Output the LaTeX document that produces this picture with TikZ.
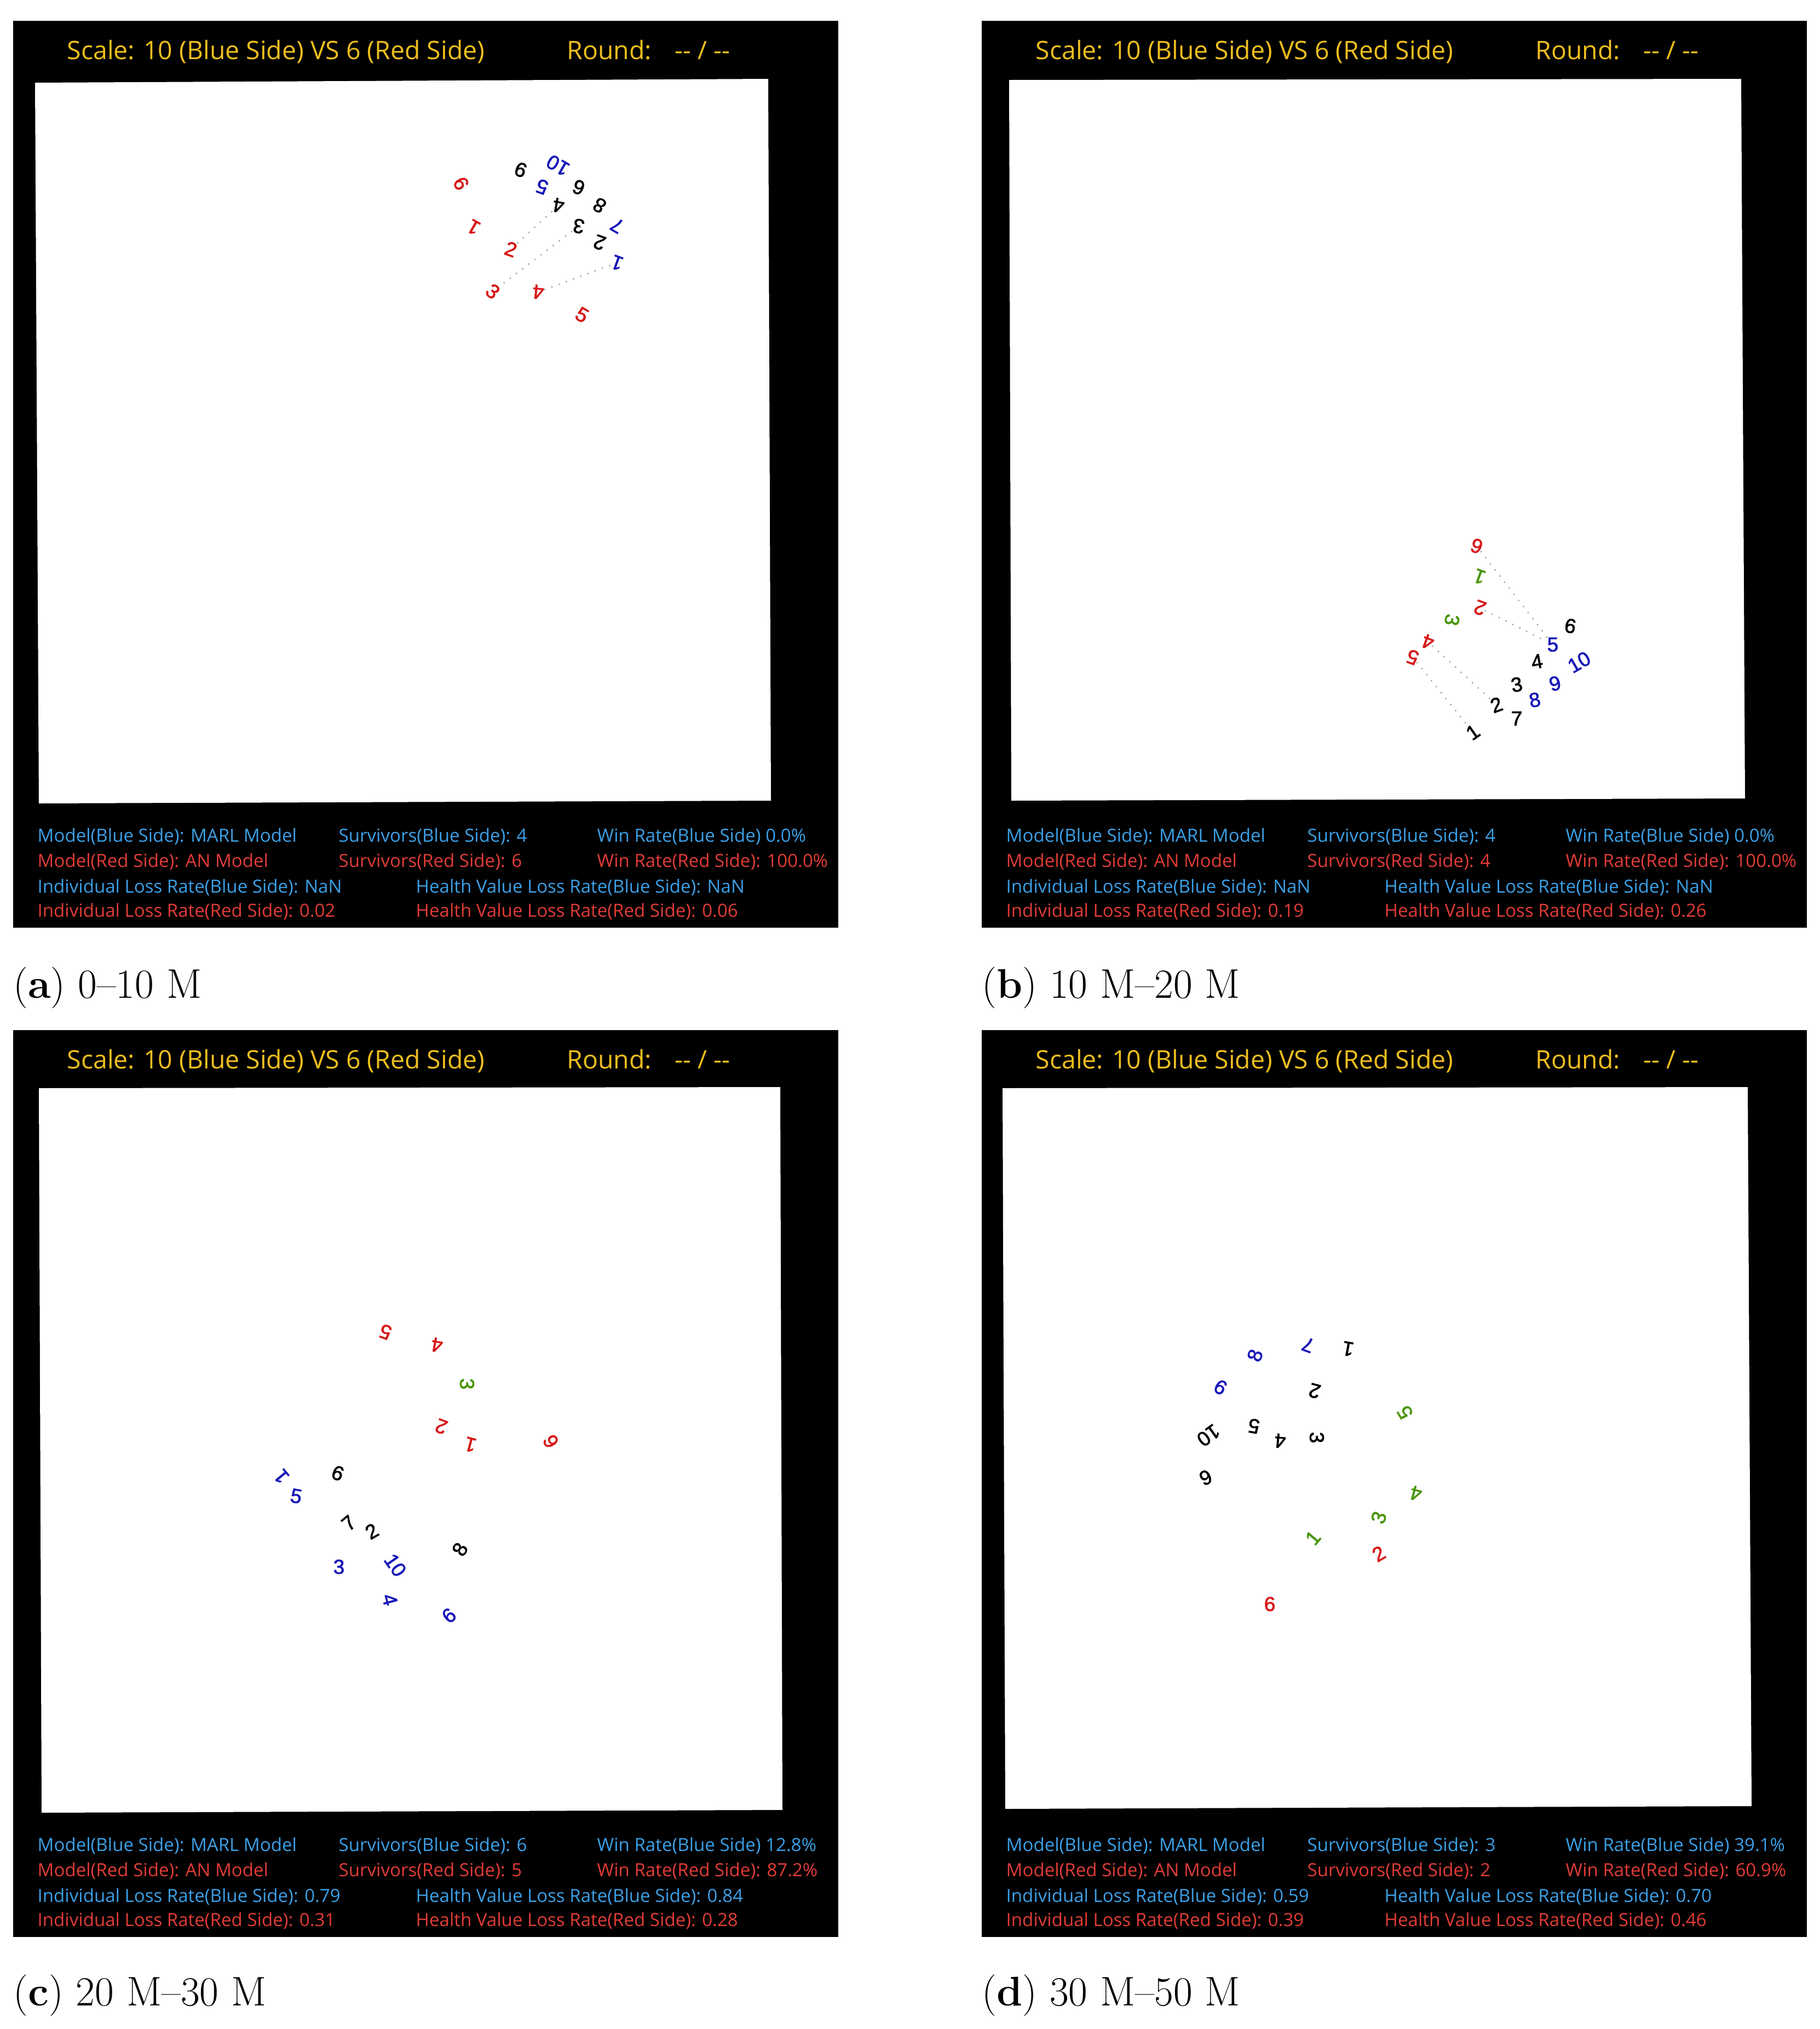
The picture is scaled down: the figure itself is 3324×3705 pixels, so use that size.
\documentclass[tikz,border=0pt]{standalone}
\usepackage{fontspec}
\newfontfamily\uifont{Open Sans}
\newfontfamily\numfont{Liberation Sans}[FakeBold=2]
\definecolor{ttl}{RGB}{238,190,30}
\definecolor{sblue}{RGB}{60,160,230}
\definecolor{sred}{RGB}{225,60,55}
\definecolor{nred}{RGB}{215,25,25}
\definecolor{nblue}{RGB}{25,25,185}
\definecolor{ngreen}{RGB}{75,150,15}
\tikzset{
 ttltext/.style={anchor=base west, inner sep=0pt, text=ttl, font=\uifont\fontsize{13.2}{15}\selectfont},
 sb/.style={anchor=west, inner sep=0pt, text=sblue, font=\uifont\fontsize{9.4}{11}\selectfont},
 sr/.style={sb, text=sred},
 captext/.style={anchor=base west, inner sep=0pt, font=\fontsize{21.5}{25}\selectfont},
 num/.style={inner sep=0pt, font=\numfont\fontsize{10.5}{12}\selectfont},
 rd/.style={num, text=nred}, bl/.style={num, text=nblue},
 bk/.style={num, text=black}, gn/.style={num, text=ngreen},
 dotl/.style={gray!80, line width=0.9pt, line cap=round, dash pattern=on 0pt off 4pt},
 panelbg/.style={fill=black},
 field/.style={fill=white},
}
\newcommand\panelstats[9]{%
 \node[ttltext] (#1t) at (98,70) {Scale: 10 (Blue Side) VS 6 (Red Side)};
 \node[ttltext] (#1r) at (1011,70) {Round:\kern 12pt-\kern0pt- / -\kern0pt-};
 \node[sb] (#1mb) at (44,1490) {Model(Blue Side): MARL Model};
 \node[sr] (#1mr) at (44,1536) {Model(Red Side): AN Model};
 \node[sb] (#1sb) at (594,1490) {Survivors(Blue Side): #2};
 \node[sr] (#1sr) at (594,1536) {Survivors(Red Side): #3};
 \node[sb] (#1wb) at (1066,1490) {Win Rate(Blue Side) #4};
 \node[sr] (#1wr) at (1066,1536) {Win Rate(Red Side): #5};
 \node[sb] (#1ib) at (44,1583) {Individual Loss Rate(Blue Side): #6};
 \node[sr] (#1ir) at (44,1627) {Individual Loss Rate(Red Side): #7};
 \node[sb] (#1hb) at (735,1583) {Health Value Loss Rate(Blue Side): #8};
 \node[sr] (#1hr) at (735,1627) {Health Value Loss Rate(Red Side): #9};
}
\begin{document}
\begin{tikzpicture}[x=0.01cm, y=-0.01cm]
\useasboundingbox (0,0) rectangle (3324,3705);
\fill[white] (0,0) rectangle (3324,3705);

% ---------- panel a ----------
\begin{scope}[shift={(24,38)}]
 \fill[panelbg] (0,0) rectangle (1507,1656);
 \fill[field] (40,113) -- (1379,106) -- (1384,1424) -- (47,1429) -- cycle;
 \panelstats{a}{4}{6}{0.0\%}{100.0\%}{NaN}{0.02}{NaN}{0.06}
\end{scope}
% ---------- panel b ----------
\begin{scope}[shift={(1793,38)}]
 \fill[panelbg] (0,0) rectangle (1507,1656);
 \fill[field] (50,108) -- (1387,106) -- (1394,1420) -- (54,1424) -- cycle;
 \panelstats{b}{4}{4}{0.0\%}{100.0\%}{NaN}{0.19}{NaN}{0.26}
\end{scope}
% ---------- panel c ----------
\begin{scope}[shift={(24,1881)}]
 \fill[panelbg] (0,0) rectangle (1507,1656);
 \fill[field] (47,106) -- (1401,104) -- (1405,1424) -- (52,1429) -- cycle;
 \panelstats{c}{6}{5}{12.8\%}{87.2\%}{0.79}{0.31}{0.84}{0.28}
\end{scope}
% ---------- panel d ----------
\begin{scope}[shift={(1793,1881)}]
 \fill[panelbg] (0,0) rectangle (1507,1656);
 \fill[field] (38,106) -- (1399,104) -- (1406,1417) -- (43,1422) -- cycle;
 \panelstats{d}{3}{2}{39.1\%}{60.9\%}{0.59}{0.39}{0.70}{0.46}
\end{scope}

% ---------- captions ----------
\node[captext] (capa) at (24,1822) {(\textbf{a}) 0–10 M};
\node[captext] (capb) at (1793,1822) {(\textbf{b}) 10 M–20 M};
\node[captext] (capc) at (24,3662) {(\textbf{c}) 20 M–30 M};
\node[captext] (capd) at (1793,3662) {(\textbf{d}) 30 M–50 M};

% ---------- panel a labels ----------
\node[rd, rotate=-60]  (a-r6) at (842,335) {6};
\node[rd, rotate=150]  (a-r1) at (865,415) {1};
\node[rd, rotate=-20]  (a-r2) at (933,455) {2};
\node[rd, rotate=-40]  (a-r3) at (900,532) {3};
\node[rd, rotate=175]  (a-r4) at (983,533) {4};
\node[rd, rotate=-30]  (a-r5) at (1063,575) {5};
\node[bk, rotate=160]  (a-k9) at (951,310) {9};
\node[bl, rotate=150]  (a-u10) at (1019,302) {10};
\node[bl, rotate=160]  (a-u5) at (990,341) {5};
\node[bk, rotate=160]  (a-k6) at (1057,342) {6};
\node[bk, rotate=170]  (a-k4) at (1020,375) {4};
\node[bk, rotate=150]  (a-k8) at (1095,375) {8};
\node[bk, rotate=170]  (a-k3) at (1057,413) {3};
\node[bl, rotate=150]  (a-u7) at (1127,412) {7};
\node[bk, rotate=160]  (a-k2) at (1095,443) {2};
\node[bl, rotate=160]  (a-u1) at (1127,480) {1};
\draw[dotl] (a-k4) -- (a-r2);
\draw[dotl] (a-k3) -- (a-r3);
\draw[dotl] (a-u1) -- (a-r4);

% ---------- panel b labels ----------
\node[rd, rotate=160]  (b-r6) at (2697,997) {6};
\node[gn, rotate=160]  (b-g1) at (2702,1053) {1};
\node[rd, rotate=160]  (b-r2) at (2703,1110) {2};
\node[gn, rotate=-100] (b-g3) at (2652,1132) {3};
\node[rd, rotate=160]  (b-r4) at (2608,1172) {4};
\node[rd, rotate=160]  (b-r5) at (2580,1200) {5};
\node[bk, rotate=-10]  (b-k6) at (2868,1143) {6};
\node[bl, rotate=0]    (b-u5) at (2836,1177) {5};
\node[bk, rotate=10]   (b-k4) at (2807,1208) {4};
\node[bl, rotate=30]   (b-u10) at (2884,1209) {10};
\node[bk, rotate=10]   (b-k3) at (2770,1250) {3};
\node[bl, rotate=15]   (b-u9) at (2840,1248) {9};
\node[bk, rotate=20]   (b-k2) at (2733,1287) {2};
\node[bl, rotate=10]   (b-u8) at (2803,1278) {8};
\node[bk, rotate=0]    (b-k7) at (2770,1312) {7};
\node[bk, rotate=35]   (b-k1) at (2690,1337) {1};
\draw[dotl] (b-r6) -- (b-u5);
\draw[dotl] (b-r2) -- (b-u5);
\draw[dotl] (b-r4) -- (b-k2);
\draw[dotl] (b-r5) -- (b-k1);

% ---------- panel c labels ----------
\node[rd, rotate=160]  (c-r5) at (704,2432) {5};
\node[rd, rotate=170]  (c-r4) at (798,2456) {4};
\node[gn, rotate=-90]  (c-g3) at (853,2527) {3};
\node[rd, rotate=160]  (c-r2) at (806,2605) {2};
\node[rd, rotate=165]  (c-r1) at (859,2638) {1};
\node[rd, rotate=120]  (c-r6) at (1006,2632) {6};
\node[bl, rotate=130]  (c-u1) at (514,2696) {1};
\node[bl, rotate=-10]  (c-u5) at (541,2732) {5};
\node[bk, rotate=160]  (c-k9) at (617,2690) {9};
\node[bk, rotate=40]   (c-k7) at (637,2781) {7};
\node[bk, rotate=30]   (c-k2) at (679,2796) {2};
\node[bl, rotate=-55]  (c-u10) at (722,2858) {10};
\node[bk, rotate=60]   (c-k8) at (840,2829) {8};
\node[bl, rotate=0]    (c-u3) at (619,2861) {3};
\node[bl, rotate=-75]  (c-u4) at (712,2921) {4};
\node[bl, rotate=40]   (c-u6) at (820,2950) {6};

% ---------- panel d labels ----------
\node[bl, rotate=70]   (d-u8) at (2292,2475) {8};
\node[bl, rotate=160]  (d-u7) at (2389,2456) {7};
\node[bk, rotate=170]  (d-k1) at (2462,2463) {1};
\node[bl, rotate=-30]  (d-u6) at (2229,2533) {6};
\node[bk, rotate=165]  (d-k2) at (2401,2540) {2};
\node[gn, rotate=120]  (d-g5) at (2566,2579) {5};
\node[bk, rotate=216]  (d-k10) at (2207,2621) {10};
\node[bk, rotate=170]  (d-k5) at (2290,2604) {5};
\node[bk, rotate=175]  (d-k4) at (2338,2631) {4};
\node[bk, rotate=-90]  (d-k3) at (2405,2625) {3};
\node[bk, rotate=25]   (d-k9) at (2202,2698) {9};
\node[gn, rotate=165]  (d-g4) at (2586,2727) {4};
\node[gn, rotate=70]   (d-g3) at (2518,2771) {3};
\node[gn, rotate=50]   (d-g1) at (2398,2808) {1};
\node[rd, rotate=30]   (d-r2) at (2518,2837) {2};
\node[rd, rotate=0]    (d-r6) at (2319,2929) {6};
\end{tikzpicture}
\end{document}
